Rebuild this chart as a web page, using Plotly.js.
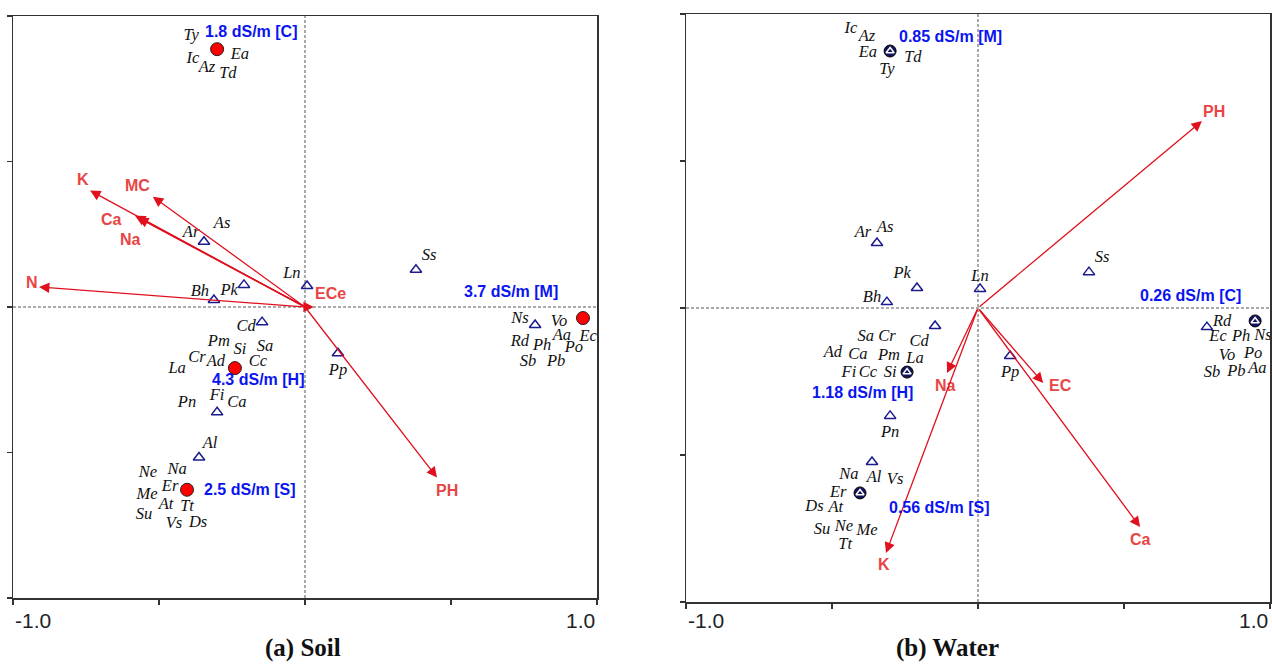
<!DOCTYPE html>
<html><head><meta charset="utf-8">
<script src="https://cdn.plot.ly/plotly-3.0.1.min.js"></script>
<style>body{margin:0;padding:0;background:#fff}#chart{width:1272px;height:664px}</style>
</head><body><div id="chart"></div>
<script>
// ---------- (a) Soil ----------
const soilSiteLabels = ['1.8 dS/m [C]','4.3 dS/m [H]','2.5 dS/m [S]','3.7 dS/m [M]'];
const soilSiteX = [-0.301,-0.240,-0.404,0.952];
const soilSiteY = [0.886,-0.210,-0.628,-0.038];
const soilSiteLabelX = [-0.349,-0.325,-0.353,0.538];
const soilSiteLabelY = [0.948,-0.248,-0.628,0.052];

const soilTriX = [-0.346,-0.312,-0.209,0.007,-0.147,-0.301,-0.363,0.380,0.113,0.788];
const soilTriY = [0.224,0.024,0.076,0.072,-0.052,-0.362,-0.517,0.128,-0.159,-0.062];

const soilSpecies = ['Ty','Ea','Ic','Az','Td','As','Ar','Bh','Pk','Ln','Cd','Pm','Si','Sa','Cr','Ad','Cc','La','Fi','Ca','Pn','Al','Ne','Na','Er','Me','At','Tt','Su','Vs','Ds','Ss','Pp','Ns','Vo','Rd','Aa','Ec','Ph','Po','Sb','Pb'];
const soilSpeciesX = [-0.390,-0.223,-0.384,-0.336,-0.264,-0.284,-0.390,-0.360,-0.260,-0.045,-0.202,-0.295,-0.223,-0.137,-0.370,-0.305,-0.161,-0.438,-0.301,-0.233,-0.404,-0.325,-0.538,-0.438,-0.462,-0.541,-0.476,-0.404,-0.551,-0.449,-0.366,0.425,0.113,0.736,0.870,0.736,0.880,0.970,0.812,0.921,0.764,0.860];
const soilSpeciesY = [0.931,0.866,0.852,0.821,0.800,0.286,0.255,0.052,0.055,0.114,-0.069,-0.121,-0.148,-0.138,-0.176,-0.190,-0.190,-0.214,-0.307,-0.328,-0.331,-0.472,-0.569,-0.559,-0.617,-0.645,-0.679,-0.686,-0.714,-0.745,-0.741,0.176,-0.221,-0.041,-0.050,-0.121,-0.100,-0.103,-0.134,-0.141,-0.190,-0.190];

const soilEnv = ['K','MC','Ca','Na','N','ECe','PH'];
const soilEnvX = [-0.736,-0.521,-0.582,-0.572,-0.911,0.030,0.452];
const soilEnvY = [0.400,0.379,0.314,0.307,0.069,0.000,-0.586];
const soilEnvLabelX = [-0.760,-0.572,-0.664,-0.596,-0.935,0.089,0.486];
const soilEnvLabelY = [0.438,0.417,0.300,0.231,0.083,0.045,-0.631];

// ---------- (b) Water ----------
const waterSiteLabels = ['0.85 dS/m [M]','1.18 dS/m [H]','0.56 dS/m [S]','0.26 dS/m [C]'];
const waterSiteX = [-0.301,-0.243,-0.404,0.949];
const waterSiteY = [0.874,-0.218,-0.629,-0.044];
const waterSiteLabelX = [-0.277,-0.575,-0.312,0.548];
const waterSiteLabelY = [0.922,-0.286,-0.680,0.041];

const waterTriX = [-0.346,-0.209,-0.312,0.007,-0.147,0.110,-0.301,-0.363,0.380,0.784];
const waterTriY = [0.221,0.068,0.020,0.065,-0.061,-0.163,-0.367,-0.524,0.122,-0.065];

const waterSpecies = ['Ic','Az','Ea','Td','Ty','Ar','As','Pk','Bh','Ln','Cd','Sa','Cr','Ad','Ca','Pm','La','Fi','Cc','Si','Pp','Pn','Al','Na','Vs','Er','Ds','At','Su','Ne','Me','Tt','Ss','Rd','Ec','Ph','Ns','Vo','Po','Sb','Pb','Aa'];
const waterSpeciesX = [-0.435,-0.380,-0.377,-0.223,-0.312,-0.394,-0.318,-0.260,-0.363,0.007,-0.202,-0.384,-0.312,-0.497,-0.411,-0.305,-0.216,-0.442,-0.377,-0.301,0.110,-0.301,-0.356,-0.442,-0.284,-0.479,-0.560,-0.487,-0.534,-0.459,-0.380,-0.455,0.425,0.836,0.822,0.901,0.976,0.853,0.942,0.801,0.885,0.957];
const waterSpeciesY = [0.949,0.922,0.867,0.850,0.810,0.255,0.272,0.116,0.034,0.105,-0.116,-0.099,-0.099,-0.153,-0.160,-0.163,-0.173,-0.221,-0.221,-0.221,-0.221,-0.425,-0.578,-0.568,-0.585,-0.629,-0.677,-0.680,-0.755,-0.745,-0.759,-0.806,0.170,-0.047,-0.099,-0.099,-0.095,-0.163,-0.156,-0.221,-0.218,-0.207];

const waterEnv = ['PH','EC','Ca','Na','K'];
const waterEnvX = [0.767,0.223,0.555,-0.106,-0.315];
const waterEnvY = [0.636,-0.255,-0.745,-0.221,-0.833];
const waterEnvLabelX = [0.808,0.281,0.555,-0.113,-0.322];
const waterEnvLabelY = [0.670,-0.265,-0.786,-0.262,-0.874];

const axisTicks = [-1,-0.5,0,0.5,1];
const tickLabels = ['-1.0','1.0'];
const panelTitles = ['(a) Soil','(b) Water'];

// ---------- styles ----------
const NAVY = '#1c1c8c';
const BLUE = '#0a14f0';
const ARROW = '#e0101e';
const ENVTXT = '#e84545';
const speciesFont = {family:'Liberation Serif, Times New Roman, serif', style:'italic', size:16.5, color:'#111'};

function speciesTrace(names, xs, ys, xa, ya){
  return {type:'scatter', mode:'text', x:xs, y:ys, text:names, textposition:'middle center',
    textfont:speciesFont, xaxis:xa, yaxis:ya, hoverinfo:'skip', showlegend:false, cliponaxis:false};
}
function triTrace(xs, ys, xa, ya){
  return {type:'scatter', mode:'markers', x:xs, y:ys, xaxis:xa, yaxis:ya, showlegend:false, cliponaxis:false,
    marker:{symbol:'triangle-up-open', size:10, color:NAVY, line:{color:NAVY, width:1.5}}};
}

const traces = [
  speciesTrace(soilSpecies, soilSpeciesX, soilSpeciesY, 'x', 'y'),
  triTrace(soilTriX, soilTriY, 'x', 'y'),
  {type:'scatter', mode:'markers', x:soilSiteX, y:soilSiteY, xaxis:'x', yaxis:'y', showlegend:false, cliponaxis:false,
    marker:{symbol:'circle', size:13, color:'#ff0000', line:{color:'#222', width:1}}},
  speciesTrace(waterSpecies, waterSpeciesX, waterSpeciesY, 'x2', 'y2'),
  triTrace(waterTriX, waterTriY, 'x2', 'y2'),
  {type:'scatter', mode:'markers', x:waterSiteX, y:waterSiteY, xaxis:'x2', yaxis:'y2', showlegend:false, cliponaxis:false,
    marker:{symbol:'circle', size:12, color:'#14145e', line:{color:'#000', width:1}}},
  {type:'scatter', mode:'markers', x:waterSiteX, y:waterSiteY, xaxis:'x2', yaxis:'y2', showlegend:false, cliponaxis:false,
    marker:{symbol:'triangle-up-open', size:7, color:'#fff', line:{color:'#fff', width:1.5}}}
];

const annotations = [];
function addArrows(names, tx, ty, lx, ly, xr, yr){
  names.forEach((n,i)=>{
    annotations.push({xref:xr, yref:yr, axref:xr, ayref:yr, x:tx[i], y:ty[i], ax:0, ay:0, text:'',
      showarrow:true, arrowhead:2, arrowsize:1.6, arrowwidth:1.3, arrowcolor:ARROW, standoff:0});
    annotations.push({xref:xr, yref:yr, x:lx[i], y:ly[i], text:'<b>'+n+'</b>', showarrow:false,
      font:{family:'Liberation Sans, Arial, sans-serif', size:16, color:ENVTXT}, xanchor:'center', yanchor:'middle'});
  });
}
function addSiteLabels(names, lx, ly, xr, yr){
  names.forEach((n,i)=>{
    annotations.push({xref:xr, yref:yr, x:lx[i], y:ly[i], text:'<b>'+n+'</b>', showarrow:false,
      font:{family:'Liberation Sans, Arial, sans-serif', size:16, color:BLUE}, xanchor:'left', yanchor:'middle'});
  });
}
addArrows(soilEnv, soilEnvX, soilEnvY, soilEnvLabelX, soilEnvLabelY, 'x', 'y');
addArrows(waterEnv, waterEnvX, waterEnvY, waterEnvLabelX, waterEnvLabelY, 'x2', 'y2');
addSiteLabels(soilSiteLabels, soilSiteLabelX, soilSiteLabelY, 'x', 'y');
addSiteLabels(waterSiteLabels, waterSiteLabelX, waterSiteLabelY, 'x2', 'y2');

// tick labels at -1 and 1
[['x',0.066],['x2',0.066]].forEach(([xr,py])=>{
  annotations.push({xref:xr, yref:'paper', x:axisTicks[0], y:py, text:tickLabels[0], showarrow:false, xanchor:'left', yanchor:'middle',
    font:{family:'Liberation Sans, Arial, sans-serif', size:21, color:'#222'}});
  annotations.push({xref:xr, yref:'paper', x:axisTicks[4], y:py, text:tickLabels[1], showarrow:false, xanchor:'right', yanchor:'middle',
    font:{family:'Liberation Sans, Arial, sans-serif', size:21, color:'#222'}});
});
// panel titles
annotations.push({xref:'paper', yref:'paper', x:303/1272, y:1-648/664, text:'<b>'+panelTitles[0]+'</b>', showarrow:false,
  font:{family:'Liberation Serif, Times New Roman, serif', size:25, color:'#111'}, xanchor:'center', yanchor:'middle'});
annotations.push({xref:'paper', yref:'paper', x:948/1272, y:1-648/664, text:'<b>'+panelTitles[1]+'</b>', showarrow:false,
  font:{family:'Liberation Serif, Times New Roman, serif', size:25, color:'#111'}, xanchor:'center', yanchor:'middle'});

const shapes = [];
[['x','y'],['x2','y2']].forEach(([xr,yr])=>{
  shapes.push({type:'line', xref:xr, yref:yr, x0:0, x1:0, y0:-1, y1:1, line:{color:'#555', width:1, dash:'3px,2px'}, layer:'below'});
  shapes.push({type:'line', xref:xr, yref:yr, x0:-1, x1:1, y0:0, y1:0, line:{color:'#555', width:1, dash:'3px,2px'}, layer:'below'});
});

function ax(domain){
  return {domain:domain, range:[-1,1], showgrid:false, zeroline:false, showline:true, mirror:true,
    linecolor:'#333', linewidth:1.5, ticks:'outside', ticklen:5, tickwidth:1.2, tickcolor:'#333',
    tickvals:axisTicks, showticklabels:false, fixedrange:true};
}
const layout = {
  width:1272, height:664, margin:{l:0,r:0,t:0,b:0}, paper_bgcolor:'#fff', plot_bgcolor:'#fff',
  showlegend:false,
  xaxis: Object.assign(ax([13/1272, 597/1272]), {anchor:'y'}),
  yaxis: Object.assign(ax([1-598/664, 1-16/664]), {anchor:'x'}),
  xaxis2: Object.assign(ax([686/1272, 1270/1272]), {anchor:'y2'}),
  yaxis2: Object.assign(ax([1-602/664, 1-14/664]), {anchor:'x2'}),
  annotations:annotations, shapes:shapes
};
Plotly.newPlot('chart', traces, layout, {displayModeBar:false, staticPlot:true});
</script></body></html>
